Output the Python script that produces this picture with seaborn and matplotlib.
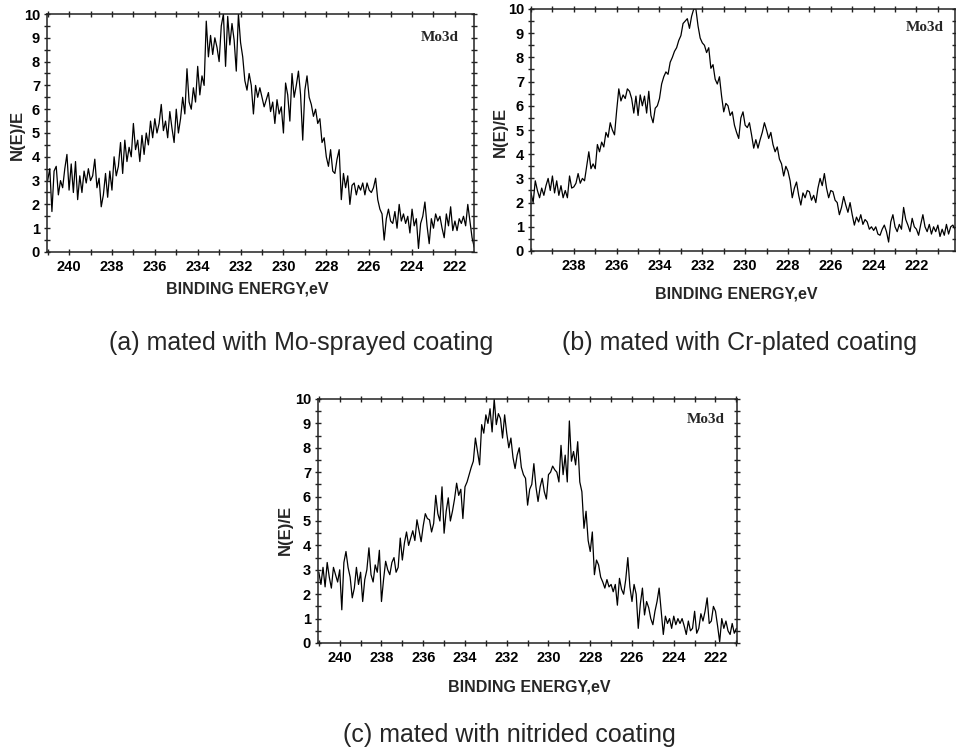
import numpy as np
import matplotlib
matplotlib.use("Agg")
import matplotlib.pyplot as plt
import seaborn as sns
from matplotlib.ticker import MultipleLocator

sns.set_style("ticks")
plt.rcParams.update({
    "font.family": ["Liberation Sans", "DejaVu Sans"],
    "font.weight": "bold",
    "axes.linewidth": 1.1,
    "axes.edgecolor": "#222222",
})

# Mo3d spectra, N(E)/E every 0.1 eV (high -> low binding energy)
mo_sprayed = [
    3.0, 3.5, 1.7, 3.4, 3.6, 2.4, 3.0, 2.7, 3.5, 4.1,
    2.6, 3.7, 2.5, 3.8, 2.2, 3.2, 2.5, 3.4, 2.9, 3.5,
    3.0, 3.2, 3.9, 2.7, 3.1, 1.9, 2.4, 3.3, 2.3, 3.4,
    2.6, 4.0, 3.2, 3.6, 4.6, 3.3, 4.7, 3.8, 4.4, 4.0,
    5.4, 4.3, 4.7, 3.8, 4.9, 4.1, 5.0, 4.5, 5.5, 4.8,
    5.6, 5.0, 5.4, 6.2, 5.1, 5.5, 4.8, 5.9, 5.2, 4.6,
    6.0, 5.0, 5.6, 6.5, 5.8, 7.7, 6.3, 6.0, 6.9, 6.3,
    7.8, 6.6, 7.4, 7.0, 9.7, 8.2, 9.1, 8.3, 9.0, 8.6,
    8.0, 9.5, 10.0, 7.8, 9.9, 8.7, 9.6, 8.9, 7.6, 10.0,
    8.8, 8.2, 7.2, 6.8, 7.5, 7.0, 5.8, 7.0, 6.5, 6.9,
    6.5, 6.1, 6.4, 6.7, 5.9, 6.3, 5.4, 6.4, 5.8, 6.1,
    5.0, 7.1, 6.6, 5.5, 7.5, 6.5, 7.0, 7.6, 6.6, 4.7,
    6.8, 7.4, 6.5, 6.2, 5.7, 6.0, 5.4, 5.6, 4.6, 4.8,
    4.0, 3.6, 4.3, 3.4, 3.3, 3.9, 4.3, 2.2, 3.3, 2.7,
    3.2, 2.0, 2.8, 2.9, 2.4, 2.8, 2.6, 2.9, 2.4, 2.9,
    2.6, 2.5, 2.7, 3.1, 2.2, 1.8, 1.6, 0.5, 1.4, 1.8,
    1.3, 1.2, 1.7, 1.0, 2.0, 1.3, 1.6, 1.2, 1.5, 0.8,
    1.8, 1.1, 1.4, 0.15, 1.2, 1.5, 2.1, 1.1, 0.35, 1.4,
    1.0, 1.6, 1.3, 1.5, 1.0, 0.6, 1.6, 1.1, 1.9, 0.9,
    1.3, 0.9, 1.4, 1.2, 1.5, 1.1, 2.0, 1.3, 0.6, 0.2,
]
cr_plated = [
    2.4, 2.0, 2.9, 2.5, 2.2, 2.6, 2.3, 2.7, 3.0, 2.5,
    3.1, 2.4, 2.9, 2.3, 2.7, 2.2, 2.5, 2.2, 3.1, 2.6,
    2.65, 2.8, 3.2, 2.8, 3.0, 2.9, 3.5, 4.1, 3.4, 3.6,
    3.4, 4.4, 4.1, 4.5, 4.3, 4.9, 4.7, 5.3, 5.0, 4.8,
    5.8, 6.7, 6.2, 6.45, 6.3, 6.7, 6.6, 6.3, 5.7, 6.4,
    5.6, 6.45, 6.0, 6.4, 5.7, 6.6, 5.6, 5.3, 5.9, 6.0,
    6.3, 6.9, 7.2, 7.4, 7.3, 7.8, 8.0, 8.25, 8.4, 8.7,
    8.9, 9.4, 9.5, 9.6, 9.2, 9.7, 10.0, 10.0, 9.3, 8.8,
    8.6, 8.5, 8.2, 8.4, 7.55, 7.7, 7.1, 6.9, 7.2, 6.4,
    5.75, 6.1, 6.0, 5.6, 5.75, 5.2, 4.9, 4.65, 5.5, 5.75,
    5.2, 5.1, 5.3, 4.8, 4.25, 4.6, 4.25, 4.6, 4.9, 5.3,
    5.0, 4.65, 4.9, 4.4, 4.1, 4.3, 3.8, 3.6, 3.1, 3.5,
    3.3, 2.9, 2.2, 2.6, 2.85, 2.3, 1.9, 2.4, 2.2, 2.5,
    2.45, 2.1, 2.3, 2.0, 2.6, 3.0, 2.7, 3.2, 2.6, 2.2,
    2.5, 2.45, 2.1, 2.0, 1.5, 1.8, 2.25, 1.9, 1.6, 2.0,
    1.5, 1.07, 1.4, 1.2, 1.5, 1.1, 1.3, 1.2, 0.9, 1.0,
    0.85, 1.0, 0.7, 0.65, 0.9, 1.07, 0.8, 0.37, 1.2, 1.5,
    1.0, 0.8, 1.1, 0.9, 1.8, 1.3, 1.07, 0.8, 1.35, 1.0,
    0.9, 0.65, 1.1, 1.5, 1.0, 0.8, 1.1, 0.7, 1.0, 0.8,
    1.07, 0.6, 0.9, 0.65, 1.1, 0.7, 1.0, 1.07, 0.9,
]
nitrided = [
    2.9, 2.4, 3.1, 2.3, 3.3, 2.7, 2.25, 3.1, 2.8, 2.5,
    3.0, 1.36, 3.3, 3.75, 3.1, 2.7, 1.85, 2.25, 3.1, 2.4,
    2.9, 1.7, 2.6, 3.0, 3.9, 2.8, 2.5, 3.2, 2.9, 3.8,
    1.7, 2.6, 3.35, 3.0, 2.8, 3.3, 3.5, 2.9, 3.1, 4.3,
    3.4, 4.1, 4.55, 4.0, 4.3, 4.6, 4.2, 5.05, 4.6, 4.15,
    4.8, 5.3, 5.1, 5.05, 4.55, 4.9, 6.05, 5.3, 5.0, 6.4,
    4.5, 5.4, 5.95, 5.0, 5.4, 5.9, 6.55, 6.05, 6.3, 5.1,
    6.4, 6.6, 6.9, 7.2, 7.45, 8.4, 7.85, 7.3, 8.95, 8.6,
    9.35, 9.0, 9.6, 8.65, 10.0, 8.95, 9.4, 9.2, 8.4, 9.35,
    8.6, 8.0, 8.4, 7.6, 7.15, 7.7, 8.0, 7.2, 6.9, 6.75,
    5.65, 6.3, 6.5, 7.35, 6.4, 5.8, 6.4, 6.75, 6.2, 5.9,
    6.9, 7.0, 7.25, 7.1, 7.0, 6.6, 8.1, 6.9, 7.7, 6.6,
    9.1, 7.45, 7.85, 7.3, 8.25, 6.6, 6.2, 4.7, 5.4, 4.2,
    3.75, 4.55, 2.8, 3.4, 3.2, 2.7, 2.5, 2.25, 2.6, 2.3,
    2.4, 2.1, 2.4, 1.55, 2.65, 2.2, 2.0, 2.6, 3.5, 2.3,
    1.7, 2.4, 2.0, 0.6, 1.6, 2.25, 1.15, 1.7, 1.45, 1.0,
    0.75, 1.3, 1.7, 2.25, 1.3, 0.35, 1.1, 0.8, 1.0, 0.6,
    1.1, 0.75, 1.0, 0.8, 1.0, 0.7, 0.35, 0.9, 0.5, 0.6,
    1.3, 0.4, 0.6, 1.2, 0.9, 1.3, 1.85, 0.8, 0.9, 1.5,
    1.3, 0.7, 0.05, 1.0, 0.6, 0.9, 0.5, 0.35, 0.8, 0.4, 0.6,
]

# binding energy grids (eV), 0.1 eV steps
be_sprayed = np.round(np.linspace(241.0, 221.1, len(mo_sprayed)), 2)
be_plated = np.round(np.linspace(240.0, 220.2, len(cr_plated)), 2)
be_nitrided = np.round(np.linspace(241.0, 221.0, len(nitrided)), 2)

captions = [
    "(a) mated with Mo-sprayed coating",
    "(b) mated with Cr-plated coating",
    "(c) mated with nitrided coating",
]
x_labels_a = [240, 238, 236, 234, 232, 230, 228, 226, 224, 222]
x_labels_b = [238, 236, 234, 232, 230, 228, 226, 224, 222]
y_labels = list(range(0, 11))

W, H = 956, 753


def rect(left, top, right, bottom):
    return [left / W, 1 - bottom / H, (right - left) / W, (bottom - top) / H]


panels = [
    dict(y=mo_sprayed, x=be_sprayed, xlim=(241.03, 221.11), xt=x_labels_a,
         box=rect(47, 14, 474, 252), xl=(0.47, -0.125), yl=(-0.052, 0.49),
         tag=(0.919, 0.903)),
    dict(y=cr_plated, x=be_plated, xlim=(240.0, 220.2), xt=x_labels_b,
         box=rect(531, 9, 955, 251), xl=(0.485, -0.145), yl=(-0.055, 0.493),
         tag=(0.929, 0.922)),
    dict(y=nitrided, x=be_nitrided, xlim=(241.04, 220.97), xt=x_labels_a,
         box=rect(318, 399, 737, 643), xl=(0.505, -0.15), yl=(-0.06, 0.464),
         tag=(0.926, 0.914)),
]

fig = plt.figure(figsize=(W / 100, H / 100), dpi=100)

for p in panels:
    ax = fig.add_axes(p["box"])
    sns.lineplot(x=p["x"], y=p["y"], ax=ax, color="black", linewidth=0.9,
                 estimator=None, sort=False, legend=False)
    ax.set_xlim(*p["xlim"])
    ax.set_ylim(0, 10)
    ax.set_xticks(p["xt"])
    ax.xaxis.set_minor_locator(MultipleLocator(1))
    ax.set_yticks(y_labels)
    ax.yaxis.set_minor_locator(MultipleLocator(0.5))
    ax.tick_params(which="both", direction="inout", length=5, width=1,
                   top=True, right=True, colors="#222222", labelcolor="black")
    ax.tick_params(axis="x", labelsize=10.5, pad=3)
    ax.tick_params(axis="y", labelsize=10.5, pad=2.5)
    for sp in ax.spines.values():
        sp.set_visible(True)

    ax.set_xlabel("BINDING ENERGY,eV", fontsize=11.5, fontweight="bold")
    ax.xaxis.set_label_coords(*p["xl"])
    ax.set_ylabel("N(E)/E", fontsize=12, fontweight="bold")
    ax.yaxis.set_label_coords(*p["yl"])
    ax.text(p["tag"][0], p["tag"][1], "Mo3d", transform=ax.transAxes,
            ha="center", va="center", fontsize=11, fontweight="bold",
            family=["Liberation Serif", "DejaVu Serif"])

cap_font = dict(fontsize=18, fontweight="normal", ha="center", va="center")
fig.text(301.5 / W, 1 - 343 / H, captions[0], **cap_font)
fig.text(739 / W, 1 - 343 / H, captions[1], **cap_font)
fig.text(509 / W, 1 - 735 / H, captions[2], **cap_font)

fig.savefig("out.png", dpi=100, facecolor="white")
